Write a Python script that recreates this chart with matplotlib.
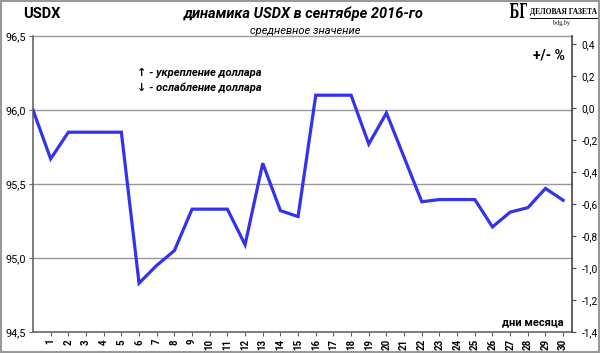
import matplotlib
matplotlib.use("Agg")
import matplotlib.pyplot as plt
from matplotlib.patches import Rectangle, PathPatch
from matplotlib.textpath import TextPath
from matplotlib.font_manager import FontProperties
from matplotlib.path import Path

days = list(range(0, 31))
usdx = [96.00, 95.67, 95.85, 95.85, 95.85, 95.85, 94.83, 94.95, 95.05, 95.33,
        95.33, 95.33, 95.09, 95.64, 95.32, 95.28, 96.10, 96.10, 96.10, 95.77,
        95.98, 95.68, 95.38, 95.395, 95.395, 95.395, 95.21, 95.31, 95.34, 95.47,
        95.39]
left_ticks = [94.5, 95.0, 95.5, 96.0, 96.5]
right_ticks = [-1.4, -1.2, -1.0, -0.8, -0.6, -0.4, -0.2, 0.0, 0.2, 0.4]
xtick_days = list(range(1, 31))

FONT = ['Roboto', 'DejaVu Sans']
plt.rcParams['font.family'] = FONT

W, H = 600, 353
fig = plt.figure(figsize=(W / 100, H / 100), dpi=100)
fig.patch.set_facecolor('white')

L, R, T, B = 33, 572, 36, 332
ax = fig.add_axes([L / W, 1 - B / H, (R - L) / W, (B - T) / H])
ax.plot(days, usdx, color='#3333ee', lw=2.3, solid_joinstyle='miter', zorder=3)
ax.set_xlim(0, 30.5)
ax.set_ylim(94.5, 96.5)
ax.set_yticks(left_ticks)
ax.set_yticklabels([f"{v:.1f}".replace('.', ',') for v in left_ticks], fontsize=7.8)
ax.set_xticks(xtick_days)
ax.set_xticklabels([str(d) for d in xtick_days], rotation=90, fontsize=7, fontweight='bold')
for v in [95.0, 95.5, 96.0, 96.5]:
    ax.axhline(v, color='#999999', lw=1, zorder=1, clip_on=False)
for s in ['top', 'right']:
    ax.spines[s].set_visible(False)
for s in ['left', 'bottom']:
    ax.spines[s].set_color('#666666')
    ax.spines[s].set_linewidth(1.2)
ax.tick_params(axis='both', direction='out', length=3, color='#666666', pad=2)

ax2 = ax.twinx()
ax2.set_ylim(-1.4, 0.45)
ax2.set_yticks(right_ticks)
ax2.set_yticklabels([f"{v:.1f}".replace('.', ',') for v in right_ticks], fontsize=7.3)
for s in ['top', 'left', 'bottom']:
    ax2.spines[s].set_visible(False)
ax2.spines['right'].set_color('#444444')
ax2.spines['right'].set_linewidth(1.2)
ax2.tick_params(axis='y', direction='out', length=3, color='#444444', pad=4)

def px(x, y):
    return x / W, 1 - y / H

fig.text(*px(23, 14), "USDX", fontsize=10.5, fontweight='bold', va='center', ha='left')
fig.text(*px(304, 14), "динамика USDX в сентябре 2016-го", fontsize=10.5,
         fontweight='bold', fontstyle='italic', va='center', ha='center')
fig.text(*px(305, 31), "средневное значение", fontsize=8, fontstyle='italic',
         va='center', ha='center')
fig.text(*px(565, 56), "+/- %", fontsize=10, fontweight='bold', va='center', ha='right')
fig.text(*px(564, 322), "дни месяца", fontsize=8, fontweight='bold', va='center', ha='right')
fig.text(*px(137, 73), "↑ - укрепление доллара", fontsize=8, fontweight='bold',
         fontstyle='italic', va='center', ha='left')
fig.text(*px(137, 88), "↓ - ослабление доллара", fontsize=8, fontweight='bold',
         fontstyle='italic', va='center', ha='left')

# logo: text drawn as paths fitted into pixel boxes
def fitted_text(s, x0, x1, ytop, ybot, family, weight='normal'):
    tp = TextPath((0, 0), s, size=10, prop=FontProperties(family=family, weight=weight))
    ext = tp.get_extents()
    verts = tp.vertices.copy()
    sx = (x1 - x0) / ext.width
    sy = (ybot - ytop) / ext.height
    vx = x0 + (verts[:, 0] - ext.x0) * sx
    vy = ybot - (verts[:, 1] - ext.y0) * sy
    newv = [(a / W, 1 - b / H) for a, b in zip(vx, vy)]
    p = Path(newv, tp.codes)
    fig.add_artist(PathPatch(p, transform=fig.transFigure, facecolor='black',
                             edgecolor='none', lw=0))

fitted_text("БГ", 510, 527, 3, 18, 'DejaVu Serif', 'bold')
fitted_text("ДЕЛОВАЯ ГАЗЕТА", 530, 597, 8, 16, 'Liberation Serif', 'bold')
fig.add_artist(plt.Line2D([530 / W, 597 / W], [1 - 17.5 / H, 1 - 17.5 / H],
                          transform=fig.transFigure, color='black', lw=0.7))
fitted_text("bdg.by", 553, 570, 20, 26, 'Liberation Serif', 'normal')

fig.add_artist(Rectangle((0.001, 0.002), 0.997, 0.995, transform=fig.transFigure,
                         fill=False, edgecolor='#999999', lw=1.5))

fig.savefig("out.png", dpi=100)
